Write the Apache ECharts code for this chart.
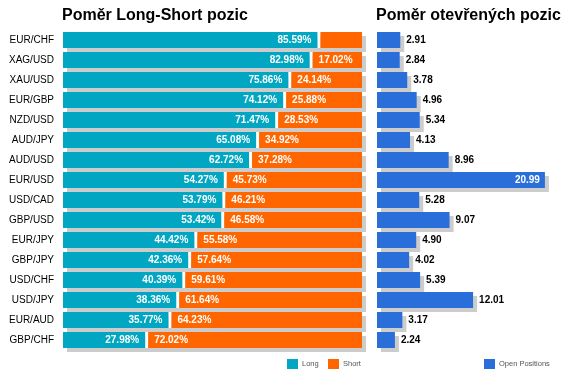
<!DOCTYPE html>
<html>
<head>
<meta charset="utf-8">
<script src="https://cdn.jsdelivr.net/npm/echarts@6/dist/echarts.min.js"></script>
<style>
html,body{margin:0;padding:0;background:#fff;}
#chart{width:572px;height:380px;}
</style>
</head>
<body>
<div id="chart"></div>
<script>
const pairs = ['EUR/CHF','XAG/USD','XAU/USD','EUR/GBP','NZD/USD','AUD/JPY','AUD/USD','EUR/USD','USD/CAD','GBP/USD','EUR/JPY','GBP/JPY','USD/CHF','USD/JPY','EUR/AUD','GBP/CHF'];
const longPct = [85.59, 82.98, 75.86, 74.12, 71.47, 65.08, 62.72, 54.27, 53.79, 53.42, 44.42, 42.36, 40.39, 38.36, 35.77, 27.98];
const shortPct = [14.41, 17.02, 24.14, 25.88, 28.53, 34.92, 37.28, 45.73, 46.21, 46.58, 55.58, 57.64, 59.61, 61.64, 64.23, 72.02];
const openPos = [2.91, 2.84, 3.78, 4.96, 5.34, 4.13, 8.96, 20.99, 5.28, 9.07, 4.90, 4.02, 5.39, 12.01, 3.17, 2.24];

const FONT = '"Liberation Sans", Arial, sans-serif';
const C_LONG = '#00A6C2', C_SHORT = '#FF6600', C_OPEN = '#2A6FD9', C_SHADOW = '#CCCCCC';
const SH = 4, GAP = 1.5, LBLFONT = 'bold 10px ' + FONT;

function bandH(api){ return api.size([0, 1])[1] * 0.8; }

function renderLong(params, api) {
  const v = api.value(0), idx = api.value(1);
  const p0 = api.coord([0, idx]), p1 = api.coord([v, idx]), pE = api.coord([100, idx]);
  const h = bandH(api), y = p0[1] - h / 2;
  const w = p1[0] - GAP - p0[0];
  const ch = [
    {type:'rect', z2:0, shape:{x:p0[0] + SH, y:y + SH, width:pE[0] - p0[0], height:h}, style:{fill:C_SHADOW}},
    {type:'rect', z2:1, shape:{x:p1[0] - GAP, y:y, width:GAP * 2, height:h}, style:{fill:'#fff'}},
    {type:'rect', z2:2, shape:{x:p0[0], y:y, width:w, height:h}, style:{fill:api.visual('color')}}
  ];
  if (w > 44) ch.push({type:'text', z2:3, x:p1[0] - GAP - 6, y:p0[1] + 0.5,
    style:{text:v.toFixed(2) + '%', fill:'#fff', font:LBLFONT, align:'right', verticalAlign:'middle'}});
  return {type:'group', children:ch};
}

function renderShort(params, api) {
  const l = api.value(0), v = api.value(1), idx = api.value(2);
  const pS = api.coord([l, idx]), pE = api.coord([l + v, idx]);
  const h = bandH(api), y = pS[1] - h / 2;
  const x0 = pS[0] + GAP, w = pE[0] - x0;
  const ch = [{type:'rect', z2:2, shape:{x:x0, y:y, width:w, height:h}, style:{fill:api.visual('color')}}];
  if (w > 45) ch.push({type:'text', z2:3, x:x0 + 6, y:pS[1] + 0.5,
    style:{text:v.toFixed(2) + '%', fill:'#fff', font:LBLFONT, align:'left', verticalAlign:'middle'}});
  return {type:'group', children:ch};
}

function renderOpen(params, api) {
  const v = api.value(0), idx = api.value(1);
  const p0 = api.coord([0, idx]), p1 = api.coord([v, idx]);
  const h = bandH(api), y = p0[1] - h / 2;
  const txt = v.toFixed(2);
  const outside = p1[0] + SH + 3 + 30 < api.getWidth();
  return {type:'group', children:[
    {type:'rect', z2:0, shape:{x:p0[0] + SH, y:y + SH, width:p1[0] - p0[0], height:h}, style:{fill:C_SHADOW}},
    {type:'rect', z2:2, shape:{x:p0[0], y:y, width:p1[0] - p0[0], height:h}, style:{fill:api.visual('color')}},
    {type:'text', z2:3, x: outside ? p1[0] + 6 : p1[0] - 5, y:p0[1] + 0.5,
      style:{text:txt, fill: outside ? '#000' : '#fff', font:LBLFONT, align: outside ? 'left' : 'right', verticalAlign:'middle'}}
  ]};
}

const chart = echarts.init(document.getElementById('chart'), null, {renderer:'canvas'});
const legendBase = {top:359, itemWidth:11, itemHeight:10, itemGap:0, icon:'rect',
  textStyle:{fontSize:7.5, color:'#555', fontFamily:FONT, padding:[0,0,0,-1]}, padding:0, selectedMode:false};
chart.setOption({
  animation:false,
  backgroundColor:'#fff',
  title:[
    {text:'Poměr Long-Short pozic', left:62, top:8, padding:0, textStyle:{fontSize:16, fontWeight:'bold', color:'#000', fontFamily:FONT}},
    {text:'Poměr otevřených pozic', left:376, top:8, padding:0, textStyle:{fontSize:16, fontWeight:'bold', color:'#000', fontFamily:FONT}}
  ],
  legend:[
    Object.assign({}, legendBase, {left:287, data:['Long']}),
    Object.assign({}, legendBase, {left:328, data:['Short']}),
    Object.assign({}, legendBase, {left:484, data:['Open Positions']})
  ],
  grid:[
    {left:63, top:30, width:299, height:320},
    {left:377, top:30, width:168, height:320}
  ],
  xAxis:[
    {type:'value', gridIndex:0, min:0, max:100, show:false},
    {type:'value', gridIndex:1, min:0, max:21, show:false}
  ],
  yAxis:[
    {type:'category', gridIndex:0, data:pairs, inverse:true,
      axisLine:{show:false}, axisTick:{show:false}, splitLine:{show:false},
      axisLabel:{fontSize:10, color:'#000', margin:9, fontFamily:FONT}},
    {type:'category', gridIndex:1, data:pairs, inverse:true, show:false}
  ],
  series:[
    {name:'Long', type:'custom', xAxisIndex:0, yAxisIndex:0, itemStyle:{color:C_LONG},
      renderItem:renderLong, encode:{x:0, y:1},
      data: longPct.map((v, i) => [v, i])},
    {name:'Short', type:'custom', xAxisIndex:0, yAxisIndex:0, itemStyle:{color:C_SHORT},
      renderItem:renderShort, encode:{x:[0, 1], y:2},
      data: shortPct.map((v, i) => [longPct[i], v, i])},
    {name:'Open Positions', type:'custom', xAxisIndex:1, yAxisIndex:1, itemStyle:{color:C_OPEN},
      renderItem:renderOpen, encode:{x:0, y:1},
      data: openPos.map((v, i) => [v, i])}
  ]
});
</script>
</body>
</html>
